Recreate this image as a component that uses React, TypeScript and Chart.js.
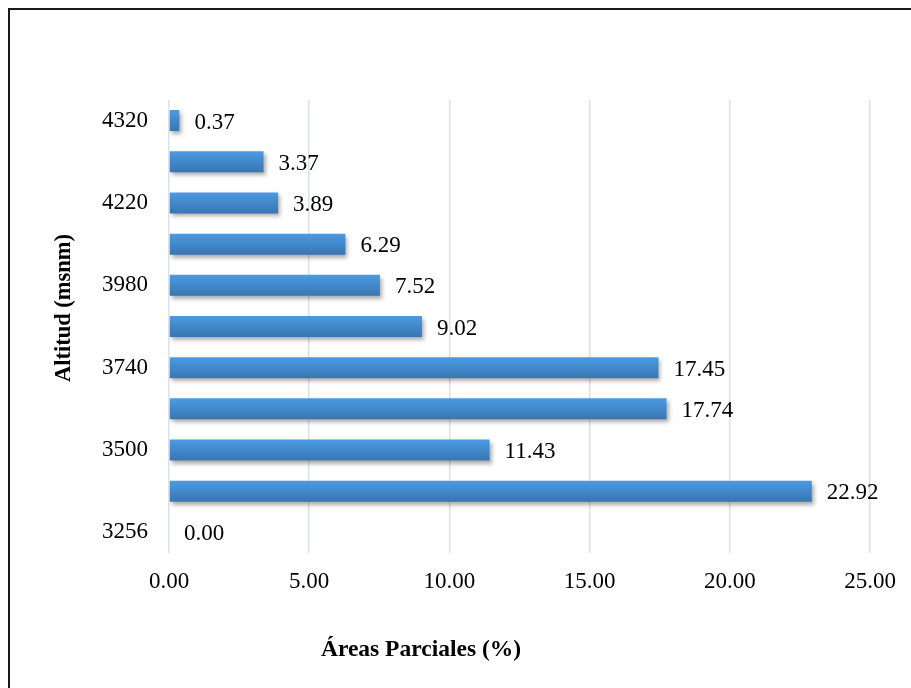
import React, { useEffect, useRef } from "react";
import { Chart, registerables } from "chart.js";

Chart.register(...registerables);

const altitudes = ["4320", "4270", "4220", "4100", "3980", "3860", "3740", "3620", "3500", "3380", "3256"];
const areas = [0.37, 3.37, 3.89, 6.29, 7.52, 9.02, 17.45, 17.74, 11.43, 22.92, 0.0];
const xTicks = [0, 5, 10, 15, 20, 25];
const xTitle = "Áreas Parciales (%)";
const yTitle = "Altitud (msnm)";

const FONT = "'Liberation Serif', 'Times New Roman', serif";

export default function App() {
  const ref = useRef<HTMLCanvasElement | null>(null);

  useEffect(() => {
    if (!ref.current) return;

    const shadowPlugin = {
      id: "barShadow",
      beforeDatasetDraw(chart: any) {
        const ctx = chart.ctx;
        ctx.save();
        ctx.shadowColor = "rgba(0,0,0,0.32)";
        ctx.shadowBlur = 4;
        ctx.shadowOffsetX = 2;
        ctx.shadowOffsetY = 3;
      },
      afterDatasetDraw(chart: any) {
        chart.ctx.restore();
      },
    };

    const labelPlugin = {
      id: "labelsAndTitles",
      afterDatasetsDraw(chart: any) {
        const ctx = chart.ctx;
        const meta = chart.getDatasetMeta(0);
        ctx.save();
        ctx.fillStyle = "#000";
        ctx.font = `23px ${FONT}`;
        ctx.textAlign = "left";
        ctx.textBaseline = "middle";
        meta.data.forEach((bar: any, i: number) => {
          ctx.fillText(areas[i].toFixed(2), bar.x + 15, bar.y + 2);
        });
        const area = chart.chartArea;
        ctx.font = `bold 23.5px ${FONT}`;
        ctx.textAlign = "center";
        ctx.fillText(xTitle, area.left + 252, 650);
        ctx.font = `bold 22.5px ${FONT}`;
        ctx.translate(64, 308);
        ctx.rotate(-Math.PI / 2);
        ctx.fillText(yTitle, 0, 0);
        ctx.restore();
      },
    };

    const chart = new Chart(ref.current, {
      type: "bar",
      data: {
        labels: altitudes,
        datasets: [
          {
            data: areas,
            backgroundColor: (c: any) => {
              const ch = c.chart;
              const ys = ch.scales && ch.scales.y;
              if (!ys || c.dataIndex == null) return "#4190d8";
              const mid = ys.getPixelForValue(c.dataIndex);
              if (!Number.isFinite(mid)) return "#4190d8";
              const g = ch.ctx.createLinearGradient(0, mid - 10.5, 0, mid + 10.5);
              g.addColorStop(0, "#4a9be3");
              g.addColorStop(1, "#3a75b2");
              return g;
            },
            borderWidth: 0,
            barPercentage: 0.51,
            categoryPercentage: 1,
          },
        ],
      },
      options: {
        indexAxis: "y",
        animation: false,
        responsive: false,
        maintainAspectRatio: false,
        layout: { padding: { left: 0, top: 100, right: 38, bottom: 0 } },
        plugins: {
          legend: { display: false },
          tooltip: { enabled: false },
          title: { display: false },
        },
        scales: {
          x: {
            min: 0,
            max: 25,
            afterBuildTicks: (s: any) => {
              s.ticks = xTicks.map((v) => ({ value: v }));
            },
            afterFit: (s: any) => {
              s.height = 135;
            },
            grid: { color: "#dce1e8", lineWidth: 1.5, drawTicks: false },
            border: { display: false },
            ticks: {
              padding: 15,
              color: "#000",
              font: { family: FONT, size: 23 },
              callback: (v: any) => Number(v).toFixed(2),
            },
          },
          y: {
            afterFit: (s: any) => {
              s.width = 169;
            },
            grid: { display: false, drawTicks: false },
            border: { display: false },
            ticks: {
              padding: 21,
              color: "#000",
              autoSkip: false,
              font: { family: FONT, size: 23 },
              callback: (_v: any, i: number) => (i % 2 === 0 ? altitudes[i] : ""),
            },
          },
        },
      },
      plugins: [shadowPlugin, labelPlugin],
    } as any);

    return () => chart.destroy();
  }, []);

  return (
    <div
      style={{
        position: "fixed",
        left: 0,
        top: 0,
        width: 911,
        height: 688,
        overflow: "hidden",
        background: "#fff",
      }}
    >
      <div
        style={{
          position: "absolute",
          left: 8,
          top: 8,
          width: 1000,
          height: 1000,
          border: "2px solid #1a1a1a",
        }}
      />
      <canvas ref={ref} width={911} height={688} style={{ position: "absolute", left: 0, top: 0 }} />
    </div>
  );
}
